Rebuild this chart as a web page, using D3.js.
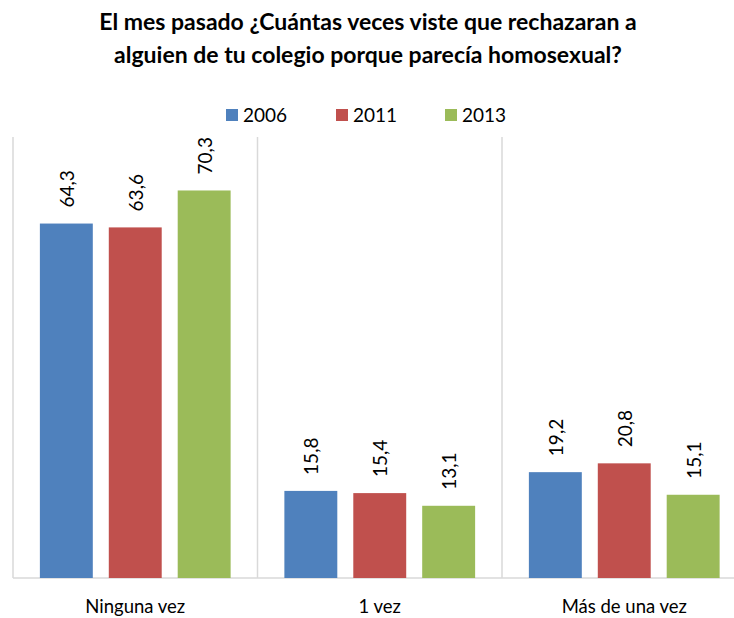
<!DOCTYPE html>
<html>
<head>
<meta charset="utf-8">
<script src="https://cdn.jsdelivr.net/npm/d3@7"></script>
<style>
  body { margin: 0; background: #fff; }
  svg text { font-family: Lato, "Open Sans", sans-serif; fill: #000; }
</style>
</head>
<body>
<div id="chart"></div>
<script>
const categories = ["Ninguna vez", "1 vez", "Más de una vez"];
const series = ["2006", "2011", "2013"];
const values2006 = [64.3, 15.8, 19.2];
const values2011 = [63.6, 15.4, 20.8];
const values2013 = [70.3, 13.1, 15.1];
const colors = ["#4f81bd", "#c0504d", "#9bbb59"];
const titleLines = ["El mes pasado ¿Cuántas veces viste que rechazaran a",
                    "alguien de tu colegio porque parecía homosexual?"];

const width = 734, height = 618;
const plot = { left: 13, right: 746.5, top: 137, bottom: 578 };

const svg = d3.select("#chart").append("svg")
  .attr("width", width)
  .attr("height", height);

// título
svg.append("g").selectAll("text")
  .data(titleLines)
  .enter().append("text")
  .attr("x", 368)
  .attr("y", (d, i) => 30 + i * 33)
  .attr("text-anchor", "middle")
  .style("font-size", "23px")
  .style("font-weight", "bold")
  .text(d => d);

const x = d3.scaleBand()
  .domain(categories)
  .range([plot.left, plot.right]);

const xs = d3.scaleBand()
  .domain(series)
  .range([0, x.bandwidth()])
  .paddingInner(0.232)
  .paddingOuter(0.39);

const y = d3.scaleLinear()
  .domain([0, 80])
  .range([plot.bottom, plot.top]);

// líneas separadoras
const bounds = categories.map(c => x(c)).concat([plot.right]);
svg.append("g").selectAll("line")
  .data(bounds)
  .enter().append("line")
  .attr("x1", d => d).attr("x2", d => d)
  .attr("y1", plot.top).attr("y2", plot.bottom)
  .attr("stroke", "#d9d9d9")
  .attr("stroke-width", 1.5);

svg.append("line")
  .attr("x1", plot.left).attr("x2", plot.right)
  .attr("y1", plot.bottom).attr("y2", plot.bottom)
  .attr("stroke", "#d9d9d9")
  .attr("stroke-width", 1.5);

const dataset = [];
categories.forEach((c, i) => {
  [values2006, values2011, values2013].forEach((vals, j) => {
    dataset.push({ cat: c, serie: series[j], value: vals[i], color: colors[j] });
  });
});

svg.append("g").selectAll("rect")
  .data(dataset)
  .enter().append("rect")
  .attr("x", d => x(d.cat) + xs(d.serie))
  .attr("y", d => y(d.value))
  .attr("width", xs.bandwidth())
  .attr("height", d => y(0) - y(d.value))
  .attr("fill", d => d.color);

const fmt = v => d3.format(".1f")(v).replace(".", ",");
svg.append("g").selectAll("text")
  .data(dataset)
  .enter().append("text")
  .attr("transform", d => `translate(${x(d.cat) + xs(d.serie) + xs.bandwidth() / 2 + 1}, ${y(d.value) - 16}) rotate(-90)`)
  .attr("dy", "0.35em")
  .style("font-size", "19px")
  .text(d => fmt(d.value));

// etiquetas de categorías
svg.append("g").selectAll("text")
  .data(categories)
  .enter().append("text")
  .attr("x", d => x(d) + x.bandwidth() / 2)
  .attr("y", 613)
  .attr("text-anchor", "middle")
  .style("font-size", "18.5px")
  .text(d => d);

// leyenda
const legendX = [226, 336, 445];
const legend = svg.append("g").selectAll("g")
  .data(series)
  .enter().append("g")
  .attr("transform", (d, i) => `translate(${legendX[i]}, 109)`);
legend.append("rect")
  .attr("width", 12).attr("height", 12)
  .attr("fill", (d, i) => colors[i]);
legend.append("text")
  .attr("x", 17).attr("y", 12.5)
  .style("font-size", "19px")
  .text(d => d);
</script>
</body>
</html>
